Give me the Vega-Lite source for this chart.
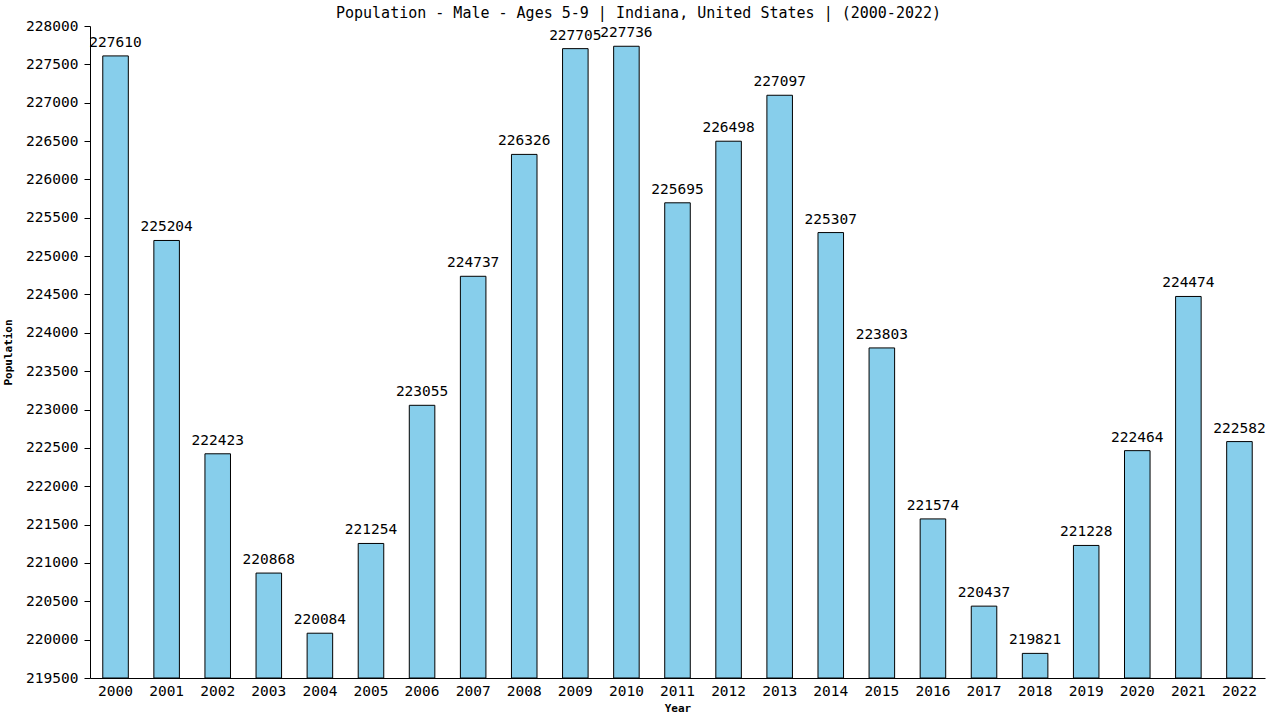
{
  "$schema": "https://vega.github.io/schema/vega-lite/v6.json",
  "autosize": "none",
  "width": 1175,
  "height": 652,
  "padding": {"left": 90, "top": 26, "right": 15, "bottom": 42},
  "background": "white",
  "title": {
    "text": "Population - Male - Ages 5-9 | Indiana, United States |  (2000-2022)",
    "font": "DejaVu Sans Mono",
    "fontSize": 15,
    "fontWeight": "normal",
    "color": "black",
    "offset": -3,
    "dx": -39
  },
  "config": {
    "view": {"stroke": null},
    "axis": {
      "labelFont": "DejaVu Sans Mono",
      "labelFontSize": 14.5,
      "labelColor": "black",
      "titleFont": "DejaVu Sans Mono",
      "titleFontSize": 11,
      "titleFontWeight": "bold",
      "titleColor": "black",
      "domainColor": "black",
      "tickColor": "black",
      "grid": false
    }
  },
  "data": {
    "values": [
      {"year": "2000", "population": 227610},
      {"year": "2001", "population": 225204},
      {"year": "2002", "population": 222423},
      {"year": "2003", "population": 220868},
      {"year": "2004", "population": 220084},
      {"year": "2005", "population": 221254},
      {"year": "2006", "population": 223055},
      {"year": "2007", "population": 224737},
      {"year": "2008", "population": 226326},
      {"year": "2009", "population": 227705},
      {"year": "2010", "population": 227736},
      {"year": "2011", "population": 225695},
      {"year": "2012", "population": 226498},
      {"year": "2013", "population": 227097},
      {"year": "2014", "population": 225307},
      {"year": "2015", "population": 223803},
      {"year": "2016", "population": 221574},
      {"year": "2017", "population": 220437},
      {"year": "2018", "population": 219821},
      {"year": "2019", "population": 221228},
      {"year": "2020", "population": 222464},
      {"year": "2021", "population": 224474},
      {"year": "2022", "population": 222582}
    ]
  },
  "encoding": {
    "x": {
      "field": "year",
      "type": "ordinal",
      "title": "Year",
      "scale": {"paddingInner": 0.5, "paddingOuter": 0.25},
      "axis": {"labelAngle": 0, "ticks": false, "labelPadding": 6, "titlePadding": 5}
    },
    "y": {
      "field": "population",
      "type": "quantitative",
      "title": "Population",
      "scale": {"domain": [219500, 228000], "zero": false, "nice": false},
      "axis": {"values": [219500, 220000, 220500, 221000, 221500, 222000, 222500, 223000, 223500, 224000, 224500, 225000, 225500, 226000, 226500, 227000, 227500, 228000], "format": "d", "tickSize": 6, "labelPadding": 6, "titlePadding": 12}
    }
  },
  "layer": [
    {
      "mark": {"type": "bar", "color": "#87CEEB", "stroke": "black", "strokeWidth": 1},
      "encoding": {"y2": {"datum": 219500}}
    },
    {
      "mark": {"type": "text", "baseline": "bottom", "dy": -6, "font": "DejaVu Sans Mono", "fontSize": 14.5, "color": "black"},
      "encoding": {"text": {"field": "population", "type": "quantitative", "format": "d"}}
    }
  ]
}
